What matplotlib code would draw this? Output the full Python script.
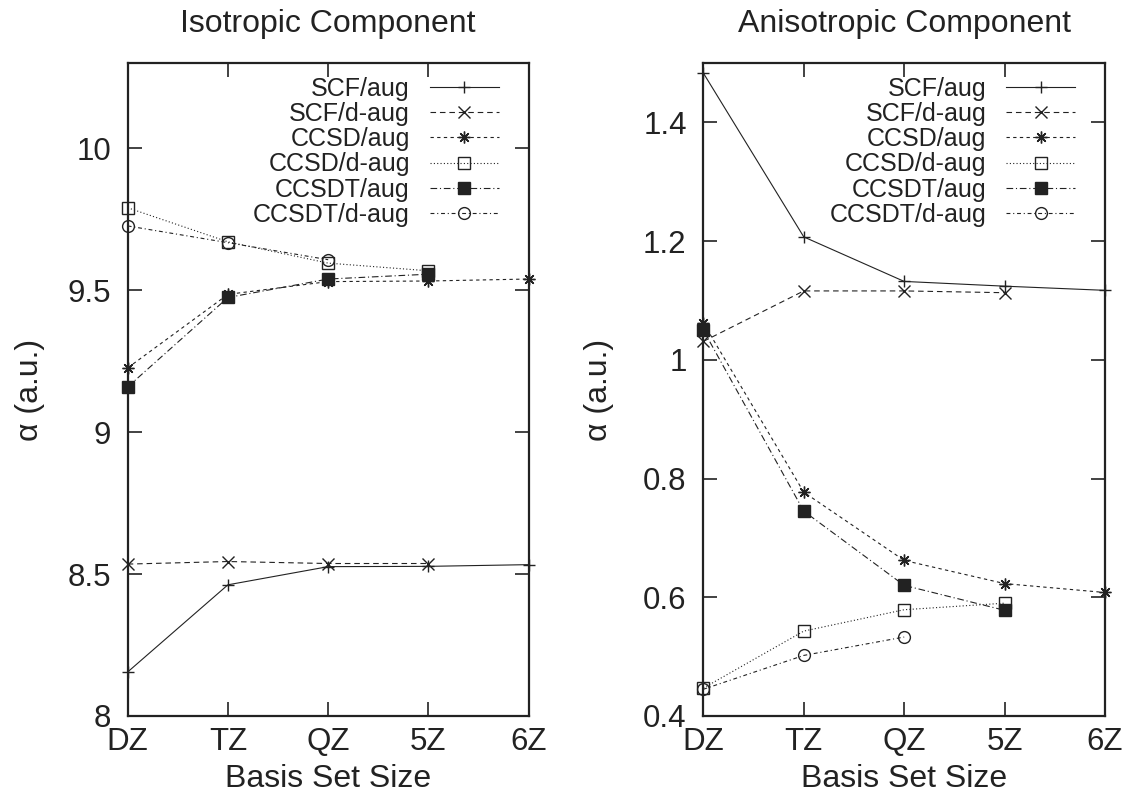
#!/usr/bin/env python3
"""
Polarizability convergence with basis set size: isotropic and anisotropic parts
"""

import matplotlib
matplotlib.use("Agg")
import matplotlib.pyplot as plt
from matplotlib.ticker import FixedLocator, FuncFormatter

plt.rcParams['font.family'] = ['Liberation Sans', 'DejaVu Sans']

# basis sets on the x axis
basis = ["DZ", "TZ", "QZ", "5Z", "6Z"]

# isotropic component (a.u.)
iso_scf_aug = [8.155, 8.462, 8.526, 8.527, 8.533]
iso_scf_daug = [8.535, 8.544, 8.537, 8.537]
iso_ccsd_aug = [9.226, 9.485, 9.530, 9.532, 9.539]
iso_ccsd_daug = [9.790, 9.670, 9.595, 9.568]
iso_ccsdt_aug = [9.159, 9.474, 9.539, 9.556]
iso_ccsdt_daug = [9.726, 9.667, 9.607]

# anisotropic component (a.u.)
ani_scf_aug = [1.483, 1.207, 1.132, 1.124, 1.117]
ani_scf_daug = [1.031, 1.116, 1.116, 1.113]
ani_ccsd_aug = [1.062, 0.777, 0.662, 0.623, 0.608]
ani_ccsd_daug = [0.447, 0.543, 0.579, 0.590]
ani_ccsdt_aug = [1.050, 0.745, 0.620, 0.578]
ani_ccsdt_daug = [0.445, 0.502, 0.533]

labels = ["SCF/aug", "SCF/d-aug", "CCSD/aug", "CCSD/d-aug",
          "CCSDT/aug", "CCSDT/d-aug"]

INK = "#222222"
# (marker, dashes, facecolor)
styles = [
    ("+", None, INK),
    ("x", (5, 3.5), INK),
    ((8, 2, 0), (3, 3), INK),
    ("s", (1, 2), "none"),
    ("s", (6, 2.5, 1, 2.5), INK),
    ("o", (3.5, 2.5, 1, 2.5), "none"),
]


def draw_panel(ax, series, title, ylim, yticks, ylabel_x):
    for vals, lab, (mk, dash, fc) in zip(series, labels, styles):
        x = list(range(len(vals)))
        line, = ax.plot(x, vals, color=INK, lw=0.8, marker=mk, ms=8.5,
                        mfc=fc, mec=INK, mew=1.0, label=lab, clip_on=False)
        if dash is not None:
            line.set_dashes(dash)

    ax.set_xlim(0, len(basis) - 1)
    ax.set_ylim(*ylim)
    ax.set_xticks(range(len(basis)))
    ax.set_xticklabels(basis)
    ax.yaxis.set_major_locator(FixedLocator(yticks))
    ax.yaxis.set_major_formatter(FuncFormatter(lambda v, p: f"{v:g}"))
    ax.tick_params(direction="in", length=10, width=1.2, top=True,
                   right=True, labelsize=22.5, colors=INK)
    ax.tick_params(axis="x", pad=8)
    ax.tick_params(axis="y", pad=12)
    for s in ax.spines.values():
        s.set_linewidth(1.6)
        s.set_color(INK)

    ax.set_title(title, fontsize=23, pad=22, color=INK)
    ax.set_xlabel("Basis Set Size", fontsize=23, labelpad=5, color=INK)
    ax.set_ylabel("α (a.u.)", fontsize=23, color=INK)
    ax.yaxis.set_label_coords(ylabel_x, 0.5)

    leg = ax.legend(loc="upper right", bbox_to_anchor=(0.925, 0.979),
                    frameon=False, markerfirst=False, fontsize=18,
                    handlelength=2.75, handletextpad=0.8, labelspacing=0.05,
                    borderpad=0, borderaxespad=0)
    for t in leg.get_texts():
        t.set_color(INK)


fig = plt.figure(figsize=(11.27, 7.95), dpi=100)
ax1 = fig.add_axes([0.1133, 0.0994, 0.3558, 0.8214])
ax2 = fig.add_axes([0.6241, 0.0994, 0.3564, 0.8214])

draw_panel(ax1, [iso_scf_aug, iso_scf_daug, iso_ccsd_aug, iso_ccsd_daug,
                 iso_ccsdt_aug, iso_ccsdt_daug],
           "Isotropic Component", (8, 10.3), [8, 8.5, 9, 9.5, 10], -0.205)
draw_panel(ax2, [ani_scf_aug, ani_scf_daug, ani_ccsd_aug, ani_ccsd_daug,
                 ani_ccsdt_aug, ani_ccsdt_daug],
           "Anisotropic Component", (0.4, 1.5),
           [0.4, 0.6, 0.8, 1.0, 1.2, 1.4], -0.222)

fig.savefig("out.png", dpi=100)
plt.close(fig)
